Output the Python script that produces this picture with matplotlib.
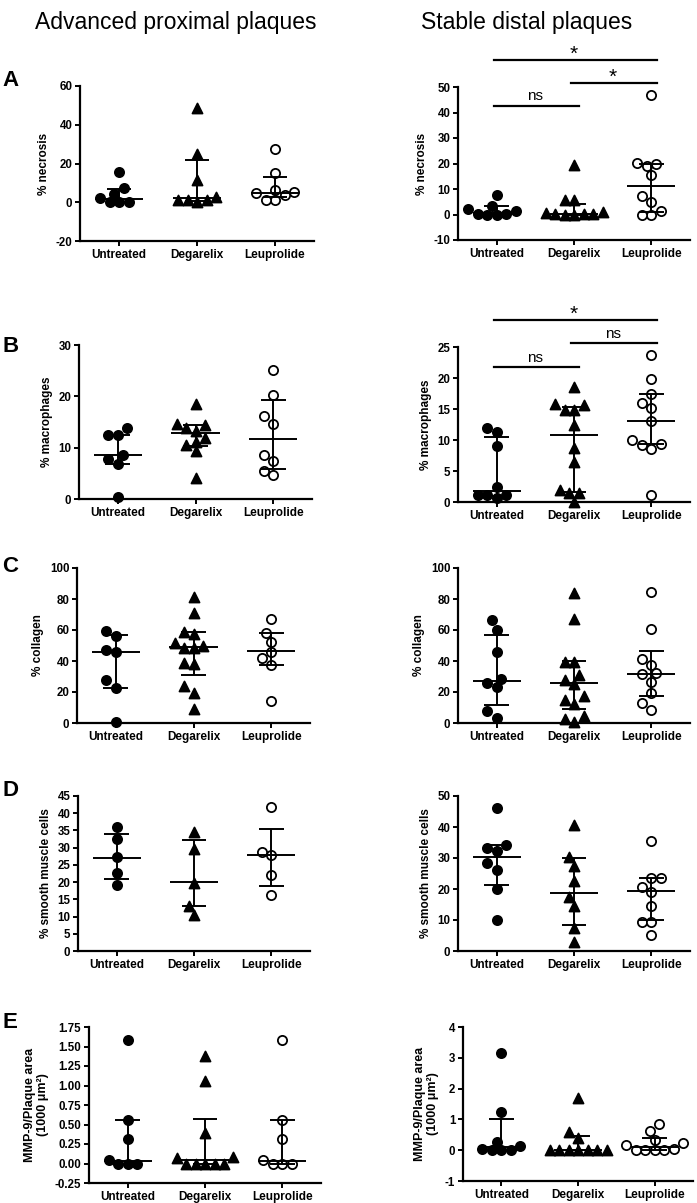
import numpy as np
import matplotlib
matplotlib.use("Agg")
import matplotlib.pyplot as plt

plt.rcParams['font.family'] = ['Liberation Sans', 'DejaVu Sans']
plt.rcParams['axes.unicode_minus'] = False

### Data ###

groups = ['Untreated', 'Degarelix', 'Leuprolide']

# each panel: values per group, and (median, q1, q3) per group
necrosis_prox = [[15.8, 7.2, 4.3, 2.0, 0.0, 0.0, 0.0],
                 [48.5, 24.8, 11.5, 2.5, 1.0, 0.2, 1.0, 1.3],
                 [27.3, 15.0, 6.4, 5.2, 4.6, 3.8, 1.2, 1.2]]
necrosis_prox_stats = [(1.9, 0.0, 7.0), (2.4, 0.9, 21.8), (4.6, 2.5, 12.9)]

necrosis_dist = [[7.8, 3.5, 2.2, 1.3, 0.3, 0.0, 0.0, 0.3],
                 [19.5, 5.8, 5.6, 0.8, 0.5, 0.3, 0.2, 0.1, 0.0, 0.0],
                 [46.8, 20.1, 19.9, 19.0, 15.3, 7.1, 4.8, 1.3, 0.0, 0.0]]
necrosis_dist_stats = [(0.6, 0.0, 3.2), (0.2, 0.0, 4.3), (11.0, 1.0, 19.9)]

macro_prox = [[13.8, 12.5, 12.5, 8.6, 7.7, 6.9, 0.4],
              [18.5, 14.7, 13.9, 14.5, 13.3, 11.9, 10.5, 11.2, 9.3, 4.0],
              [25.2, 20.2, 16.2, 14.7, 8.6, 7.4, 5.4, 4.6]]
macro_prox_stats = [(8.6, 6.9, 12.5), (12.8, 10.3, 14.5), (11.6, 5.9, 19.3)]

macro_dist = [[12.0, 11.3, 9.1, 2.4, 1.2, 0.7, 1.1, 1.2],
              [18.6, 15.8, 14.9, 14.9, 15.6, 12.4, 8.7, 6.5, 1.5, 2.0, 1.5, 0.0],
              [23.7, 19.8, 17.5, 15.9, 15.1, 13.0, 10.0, 9.2, 8.5, 9.4, 1.1]]
macro_dist_stats = [(1.8, 1.0, 10.5), (10.8, 1.6, 15.4), (13.0, 9.4, 17.5)]

collagen_prox = [[59.2, 56.4, 46.9, 45.6, 27.7, 22.6, 0.8],
                 [81.5, 70.8, 59.0, 57.2, 51.3, 49.5, 48.7, 48.2, 38.5, 38.0, 23.8, 19.2, 9.2],
                 [67.0, 58.0, 52.0, 45.6, 41.8, 37.4, 14.4]]
collagen_prox_stats = [(45.6, 22.6, 56.7), (49.0, 31.0, 58.5), (46.2, 37.4, 58.0)]

collagen_dist = [[66.2, 60.3, 45.9, 28.6, 26.0, 23.2, 8.0, 3.4],
                 [84.0, 67.3, 39.4, 39.4, 30.9, 27.6, 25.3, 17.5, 15.0, 12.4, 4.6, 2.6, 0.8],
                 [84.8, 60.8, 41.5, 37.6, 32.2, 31.4, 26.5, 19.3, 12.9, 8.5]]
collagen_dist_stats = [(27.0, 11.6, 57.0), (26.0, 9.0, 40.0), (31.4, 17.3, 46.4)]

smc_prox = [[36.0, 32.4, 27.3, 22.7, 19.1],
            [34.6, 29.5, 19.8, 13.2, 10.5],
            [41.7, 28.6, 27.8, 22.2, 16.2]]
smc_prox_stats = [(27.1, 20.9, 34.1), (20.0, 13.2, 32.2), (28.0, 19.0, 35.3)]

smc_dist = [[46.1, 34.2, 33.1, 32.3, 28.3, 26.1, 20.0, 10.0],
            [40.7, 30.4, 27.4, 22.7, 17.5, 14.5, 7.5, 3.0],
            [35.5, 23.6, 23.6, 20.7, 19.0, 14.5, 9.5, 9.3, 5.3]]
smc_dist_stats = [(30.4, 21.3, 34.1), (18.7, 8.4, 29.9), (19.2, 10.0, 23.6)]

mmp_prox = [[1.58, 0.56, 0.31, 0.04, 0.0, 0.0, 0.0],
            [1.38, 1.06, 0.39, 0.08, 0.07, 0.0, 0.0, 0.0, 0.0, 0.0],
            [1.58, 0.56, 0.31, 0.04, 0.0, 0.0, 0.0]]
mmp_prox_stats = [(0.03, 0.0, 0.56), (0.05, 0.0, 0.57), (0.03, 0.0, 0.56)]

mmp_dist = [[3.14, 1.24, 0.27, 0.13, 0.05, 0.0, 0.0, 0.0],
            [1.70, 0.58, 0.40, 0.02, 0.0, 0.0, 0.0, 0.0, 0.0, 0.0],
            [0.84, 0.62, 0.32, 0.24, 0.16, 0.05, 0.0, 0.0, 0.0, 0.0]]
mmp_dist_stats = [(0.11, 0.0, 1.01), (0.0, 0.0, 0.47), (0.11, 0.0, 0.40)]

# significance brackets: (group a, group b, label, height)
sig_necrosis_dist = [(0, 1, 'ns', 42.5), (1, 2, '*', 51.6), (0, 2, '*', 60.6)]
sig_macro_dist = [(0, 1, 'ns', 21.7), (1, 2, 'ns', 25.6), (0, 2, '*', 29.4)]

### Figure ###

W, H = 697, 1203
fig = plt.figure(figsize=(W / 100, H / 100), dpi=100)

def add_axes_px(l, t, r, b):
    return fig.add_axes([l / W, 1 - b / H, (r - l) / W, (b - t) / H])

def swarm(ax, vals, d=9.5, step=4.75):
    t = ax.transData
    px = t.transform((1, 0))[0] - t.transform((0, 0))[0]
    py = t.transform((0, 1))[1] - t.transform((0, 0))[1]
    vals = np.asarray(vals, dtype=float)
    offs = np.zeros(len(vals))
    placed = []
    cands = [0.0]
    for k in range(1, 30):
        cands += [-k * step, k * step]
    for i in np.argsort(vals, kind='stable'):
        y = vals[i] * py
        for c in cands:
            if all((c - a) ** 2 + (y - b) ** 2 >= d ** 2 for a, b in placed):
                break
        placed.append((c, y))
        offs[i] = c / px
    return offs

markers = ['o', '^', 'o']
faces = ['black', 'black', 'white']
sizes = [44, 52, 44]

def panel(ax, data, stats, ylim, yticks, ylabel, fmt='{:g}', ylabel_size=8.5):
    ax.set_xlim(-0.5, 2.5)
    ax.set_ylim(*ylim)
    for i, vals in enumerate(data):
        offs = swarm(ax, vals)
        ax.scatter(i + offs, vals, marker=markers[i], s=sizes[i], facecolor=faces[i],
                   edgecolor='black', linewidths=1.3, clip_on=False, zorder=3)
        med, q1, q3 = stats[i]
        ax.hlines(med, i - 0.31, i + 0.31, color='black', lw=1.4, zorder=4)
        ax.hlines([q1, q3], i - 0.16, i + 0.16, color='black', lw=1.4, zorder=4)
        ax.vlines(i, q1, q3, color='black', lw=1.4, zorder=4)
    ax.set_xticks(range(len(groups)))
    ax.set_xticklabels(groups, fontweight='bold', fontsize=8.5)
    ax.set_yticks(yticks)
    ax.set_yticklabels([fmt.format(v) for v in yticks], fontweight='bold', fontsize=8.3)
    ax.set_ylabel(ylabel, fontweight='bold', fontsize=ylabel_size)
    for s in ('top', 'right'):
        ax.spines[s].set_visible(False)
    for s in ('left', 'bottom'):
        ax.spines[s].set_linewidth(1.6)
    ax.tick_params(direction='out', length=3.5, width=1.4, pad=2)

def brackets(ax, sigs):
    for a, b, label, h in sigs:
        ax.plot([a - 0.04, b + 0.07], [h, h], color='black', lw=1.6, clip_on=False)
        if label == '*':
            ax.annotate(label, ((a + b) / 2, h), xytext=(0, -3), textcoords='offset points',
                        ha='center', va='bottom', fontsize=15, annotation_clip=False)
        else:
            ax.annotate(label, ((a + b) / 2, h), xytext=(0, 2), textcoords='offset points',
                        ha='center', va='bottom', fontsize=11, annotation_clip=False)

axAL = add_axes_px(80, 86, 314, 241)
axAR = add_axes_px(458, 87, 690, 240)
axBL = add_axes_px(79, 345, 312, 499)
axBR = add_axes_px(458, 347, 690, 502)
axCL = add_axes_px(77, 568, 310, 723)
axCR = add_axes_px(458, 568, 690, 723)
axDL = add_axes_px(78, 796, 310, 951)
axDR = add_axes_px(458, 796, 690, 951)
axEL = add_axes_px(89, 1027, 321, 1183)
axER = add_axes_px(463, 1027, 693, 1181)

panel(axAL, necrosis_prox, necrosis_prox_stats, (-20, 60), np.arange(-20, 61, 20), '% necrosis')
panel(axAR, necrosis_dist, necrosis_dist_stats, (-10, 50), np.arange(-10, 51, 10), '% necrosis')
panel(axBL, macro_prox, macro_prox_stats, (0, 30), np.arange(0, 31, 10), '% macrophages')
panel(axBR, macro_dist, macro_dist_stats, (0, 25), np.arange(0, 26, 5), '% macrophages')
panel(axCL, collagen_prox, collagen_prox_stats, (0, 100), np.arange(0, 101, 20), '% collagen')
panel(axCR, collagen_dist, collagen_dist_stats, (0, 100), np.arange(0, 101, 20), '% collagen')
panel(axDL, smc_prox, smc_prox_stats, (0, 45), np.arange(0, 46, 5), '% smooth muscle cells')
panel(axDR, smc_dist, smc_dist_stats, (0, 50), np.arange(0, 51, 10), '% smooth muscle cells')
panel(axEL, mmp_prox, mmp_prox_stats, (-0.25, 1.75), np.arange(-0.25, 1.76, 0.25),
      'MMP-9/Plaque area\n(1000 μm²)', fmt='{:.2f}', ylabel_size=9)
panel(axER, mmp_dist, mmp_dist_stats, (-1, 4), np.arange(-1, 5, 1),
      'MMP-9/Plaque area\n(1000 μm²)', ylabel_size=9)

brackets(axAR, sig_necrosis_dist)
brackets(axBR, sig_macro_dist)

fig.text(176 / W, 1 - 22 / H, 'Advanced proximal plaques', ha='center', va='center', fontsize=16.5)
fig.text(527 / W, 1 - 22 / H, 'Stable distal plaques', ha='center', va='center', fontsize=16.5)

for letter, top in zip('ABCDE', [70, 336, 556, 780, 1012]):
    fig.text(2 / W, 1 - top / H, letter, ha='left', va='top', fontsize=16, fontweight='bold')

fig.savefig('out.png', dpi=100)
